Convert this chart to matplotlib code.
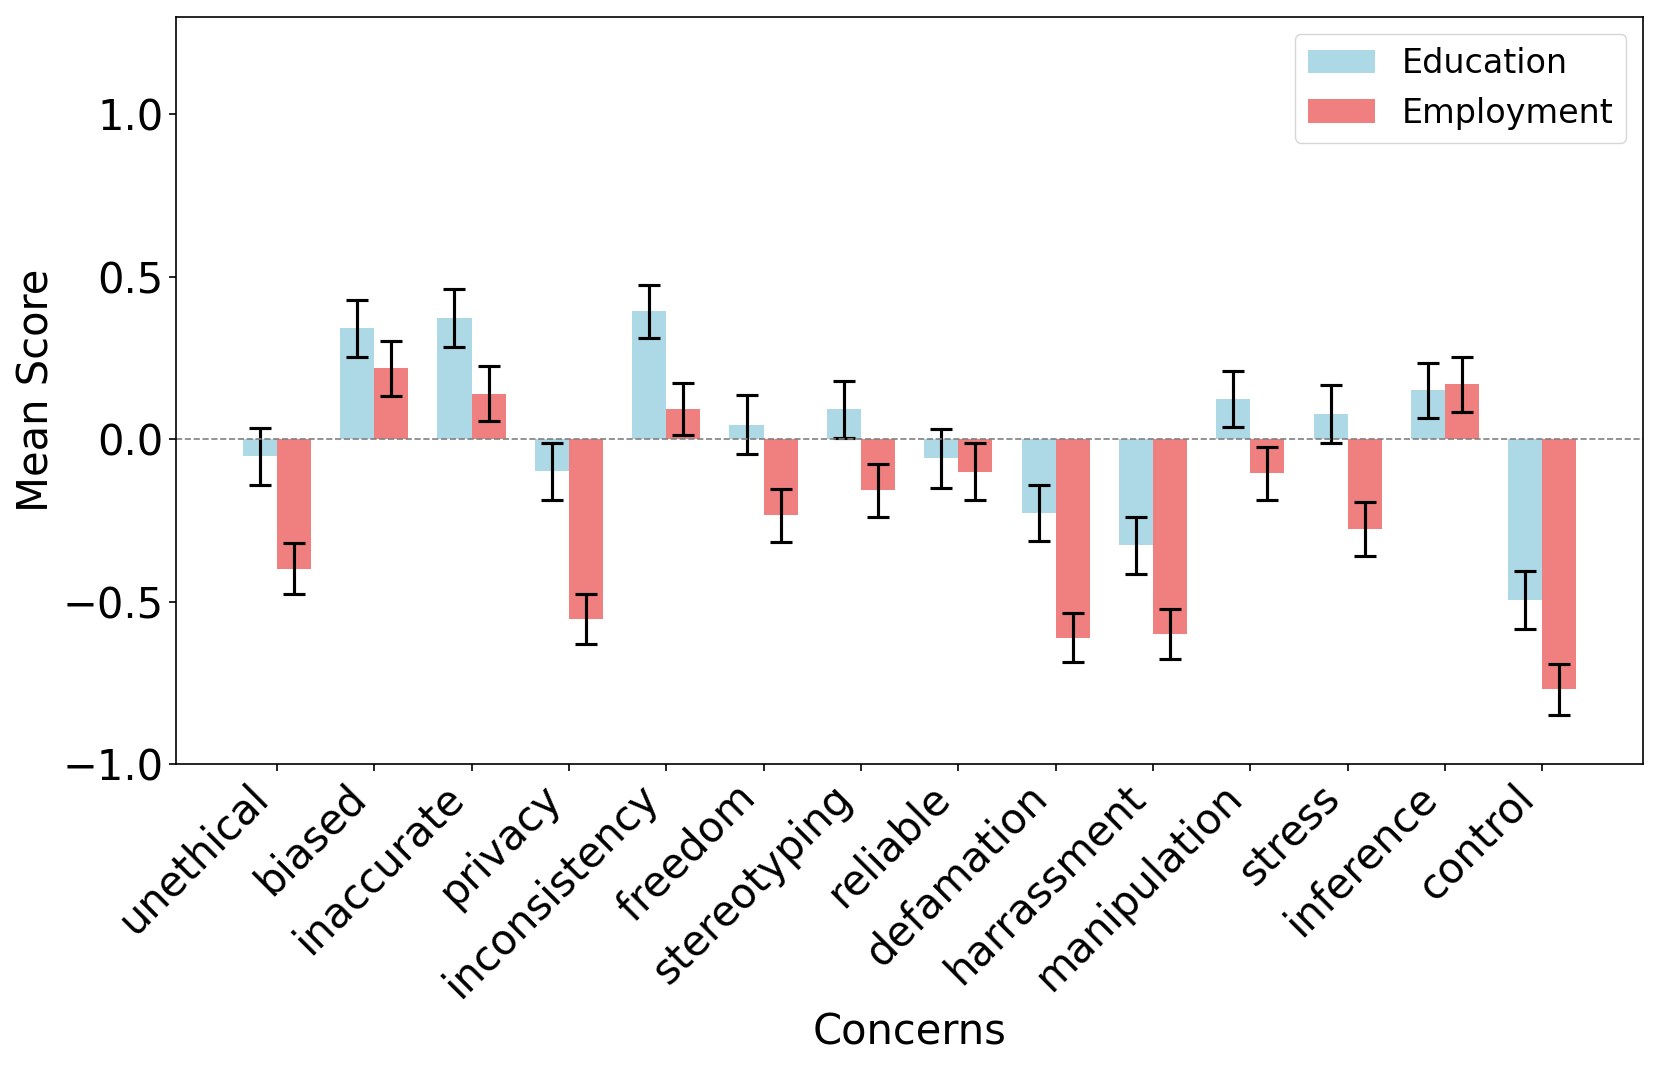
import matplotlib
matplotlib.use("Agg")
import matplotlib.pyplot as plt
import numpy as np

# %%
# Values

concerns = ["unethical", "biased", "inaccurate", "privacy", "inconsistency",
            "freedom", "stereotyping", "reliable", "defamation", "harrassment",
            "manipulation", "stress", "inference", "control"]

education = [-0.052, 0.341, 0.373, -0.099, 0.394, 0.045, 0.092, -0.058,
             -0.227, -0.327, 0.124, 0.077, 0.151, -0.495]
education_err = [0.088, 0.088, 0.088, 0.087, 0.082, 0.091, 0.087, 0.091,
                 0.085, 0.088, 0.087, 0.090, 0.085, 0.088]

employment = [-0.398, 0.218, 0.140, -0.553, 0.093, -0.234, -0.157, -0.100,
              -0.611, -0.600, -0.105, -0.276, 0.169, -0.770]
employment_err = [0.079, 0.084, 0.084, 0.077, 0.081, 0.082, 0.082, 0.087,
                  0.075, 0.076, 0.082, 0.084, 0.084, 0.078]

# %%
# Figure

fig = plt.figure(figsize=(16.61, 10.68), dpi=100)
ax = fig.add_axes([0.106, 0.2846, 0.8832, 0.6995])

x = np.arange(len(concerns))
width = 0.35
err_style = {"elinewidth": 2.25, "capsize": 8, "capthick": 2.25, "ecolor": "black"}

ax.bar(x - width / 2, education, width, yerr=education_err,
       color="lightblue", label="Education", error_kw=err_style)
ax.bar(x + width / 2, employment, width, yerr=employment_err,
       color="lightcoral", label="Employment", error_kw=err_style)

ax.axhline(0, color="grey", linestyle="--", linewidth=1.2)

ax.set_ylim(-1.0, 1.3)
ax.set_yticks([-1.0, -0.5, 0.0, 0.5, 1.0])
ax.set_xticks(x)
ax.set_xticklabels(concerns, rotation=45, ha="right")

ax.set_xlabel("Concerns", fontsize=30)
ax.set_ylabel("Mean Score", fontsize=30)
ax.tick_params(labelsize=30, width=1.2, length=5.25)
for spine in ax.spines.values():
    spine.set_linewidth(1.2)

ax.legend(loc="upper right", fontsize=24)

fig.savefig("out.png", dpi=100)
